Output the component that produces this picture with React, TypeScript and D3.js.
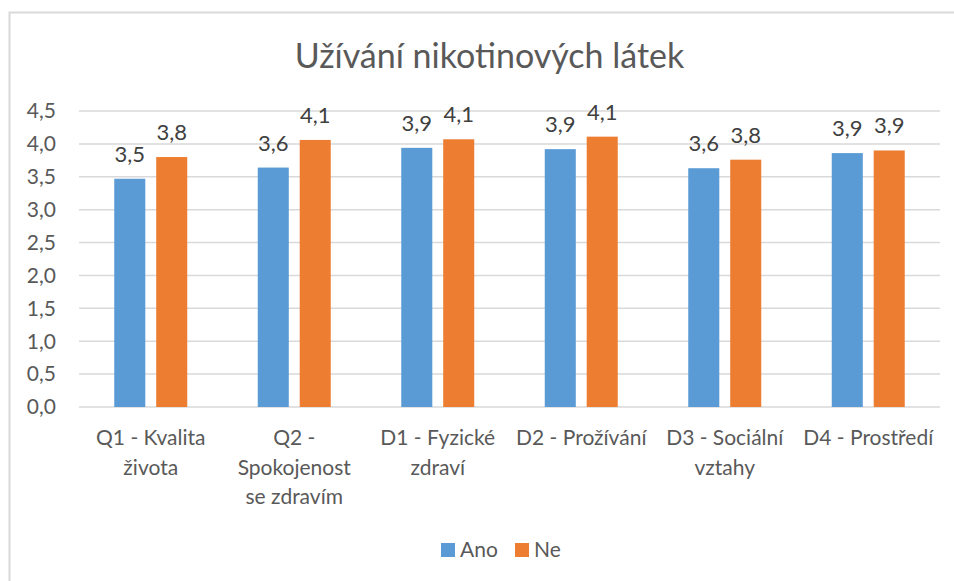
import * as d3 from "d3";

const categories = [
  ["Q1 - Kvalita", "života"],
  ["Q2 -", "Spokojenost", "se zdravím"],
  ["D1 - Fyzické", "zdraví"],
  ["D2 - Prožívání"],
  ["D3 - Sociální", "vztahy"],
  ["D4 - Prostředí"],
];
const seriesNames = ["Ano", "Ne"];
const anoValues = [3.47, 3.64, 3.94, 3.92, 3.63, 3.86];
const neValues = [3.8, 4.06, 4.07, 4.11, 3.76, 3.9];
const yTicks = [0, 0.5, 1, 1.5, 2, 2.5, 3, 3.5, 4, 4.5];
const colors = ["#5B9BD5", "#ED7D31"];

const W = 954;
const H = 581;
const font = "Lato, 'Open Sans', sans-serif";
const fmt = (v: number) => v.toFixed(1).replace(".", ",");

export default function App() {
  const left = 79;
  const right = 940;
  const top = 111;
  const bottom = 407;

  const keys = categories.map((c) => c.join(" "));
  const x0 = d3.scaleBand().domain(keys).range([left, right]).paddingInner(0).paddingOuter(0);
  const groupW = 73;
  const x1 = d3.scaleBand().domain(seriesNames).range([0, groupW]).paddingInner(0.26);
  const y = d3.scaleLinear().domain([0, 4.5]).range([bottom, top]);

  const series = [anoValues, neValues];

  return (
    <svg
      width={W}
      height={H}
      style={{ position: "absolute", left: 0, top: 0, background: "#fff" }}
      fontFamily={font}
    >
      <rect x={0} y={0} width={W} height={H} fill="#fff" />
      <rect x={9.5} y={12.5} width={W} height={H} fill="none" stroke="#d9d9d9" strokeWidth={2} />

      <text x={489.5} y={68} textAnchor="middle" fontSize={34} fill="#595959">
        Užívání nikotinových látek
      </text>

      {yTicks.map((t) => (
        <g key={t}>
          <line x1={left} x2={right} y1={y(t)} y2={y(t)} stroke="#d9d9d9" strokeWidth={1.5} />
          <text x={56} y={y(t)} dy="0.35em" textAnchor="end" fontSize={21} fill="#595959">
            {fmt(t)}
          </text>
        </g>
      ))}

      {keys.map((k, i) => {
        const gx = x0(k)! + (x0.bandwidth() - groupW) / 2;
        return (
          <g key={k}>
            {series.map((vals, s) => {
              const bx = gx + x1(seriesNames[s])!;
              const v = vals[i];
              return (
                <g key={s}>
                  <rect
                    x={bx}
                    y={y(v)}
                    width={x1.bandwidth()}
                    height={bottom - y(v)}
                    fill={colors[s]}
                  />
                  <text
                    x={bx + x1.bandwidth() / 2}
                    y={y(v) - 17}
                    textAnchor="middle"
                    fontSize={22}
                    fill="#404040"
                  >
                    {fmt(v)}
                  </text>
                </g>
              );
            })}
            {categories[i].map((line, li) => (
              <text
                key={li}
                x={x0(k)! + x0.bandwidth() / 2}
                y={438 + li * 29.5}
                dy="0.35em"
                textAnchor="middle"
                fontSize={21}
                fill="#595959"
              >
                {line}
              </text>
            ))}
          </g>
        );
      })}

      <g>
        <rect x={441} y={543} width={14} height={14} fill={colors[0]} />
        <text x={460} y={550} dy="0.35em" fontSize={21} fill="#595959">
          {seriesNames[0]}
        </text>
        <rect x={515} y={543} width={14} height={14} fill={colors[1]} />
        <text x={534} y={550} dy="0.35em" fontSize={21} fill="#595959">
          {seriesNames[1]}
        </text>
      </g>
    </svg>
  );
}
